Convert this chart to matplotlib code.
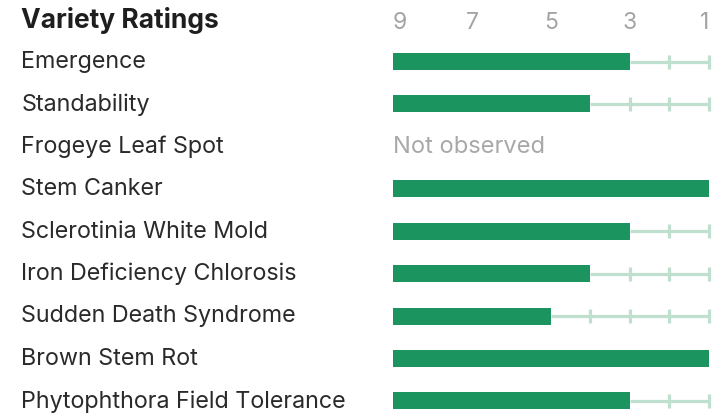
import numpy as np
import matplotlib
matplotlib.use("Agg")
import matplotlib.pyplot as plt
import matplotlib.transforms as mtrans

plt.rcParams['font.family'] = ['Inter', 'DejaVu Sans']

title = "Variety Ratings"
traits = ["Emergence", "Standability", "Frogeye Leaf Spot", "Stem Canker",
          "Sclerotinia White Mold", "Iron Deficiency Chlorosis",
          "Sudden Death Syndrome", "Brown Stem Rot",
          "Phytophthora Field Tolerance"]
# 9 = worst, 1 = best; None = not observed
ratings = [3, 4, None, 1, 3, 4, 5, 1, 3]
scale_ticks = [9, 7, 5, 3, 1]
missing_text = "Not observed"

bar_color = "#1c9460"
track_color = "#bfe0cf"
text_color = "#2a2a2a"
gray = "#a3a3a3"

fig = plt.figure(figsize=(7.16, 4.17), dpi=100)
ax = fig.add_axes([0, 0, 1, 1])
ax.set_xlim(18.95, 0.82)
ax.set_ylim(8.38, -1.45)
ax.axis("off")

lab = mtrans.blended_transform_factory(ax.transAxes, ax.transData)

ax.text(0.030, -0.97, title, transform=lab, fontsize=19,
        fontweight="bold", color="#1e1e1e", va="center")
for t in scale_ticks:
    ha = "left" if t == max(scale_ticks) else ("right" if t == min(scale_ticks) else "center")
    ax.text(t, -0.9, str(t), ha=ha, va="center", fontsize=16.5,
            color=gray)

for i, (name, v) in enumerate(zip(traits, ratings)):
    ax.text(0.030, i + 0.01, name, transform=lab, fontsize=16.8,
            color=text_color, va="center")
    if v is None:
        ax.text(9, i + 0.01, missing_text, ha="left", va="center",
                fontsize=17, color="#a8a8a8")
        continue
    if v > 1:
        ax.hlines(i, v, 1, color=track_color, lw=2.3, zorder=1)
        ticks = np.arange(1, v)
        ax.plot(ticks, [i] * len(ticks), ls="none", marker="|",
                ms=10, mew=2.3, color=track_color, zorder=1)
    ax.barh(i, v - 9, left=9, height=0.4, color=bar_color, zorder=2)

fig.savefig("out.png", dpi=100)
